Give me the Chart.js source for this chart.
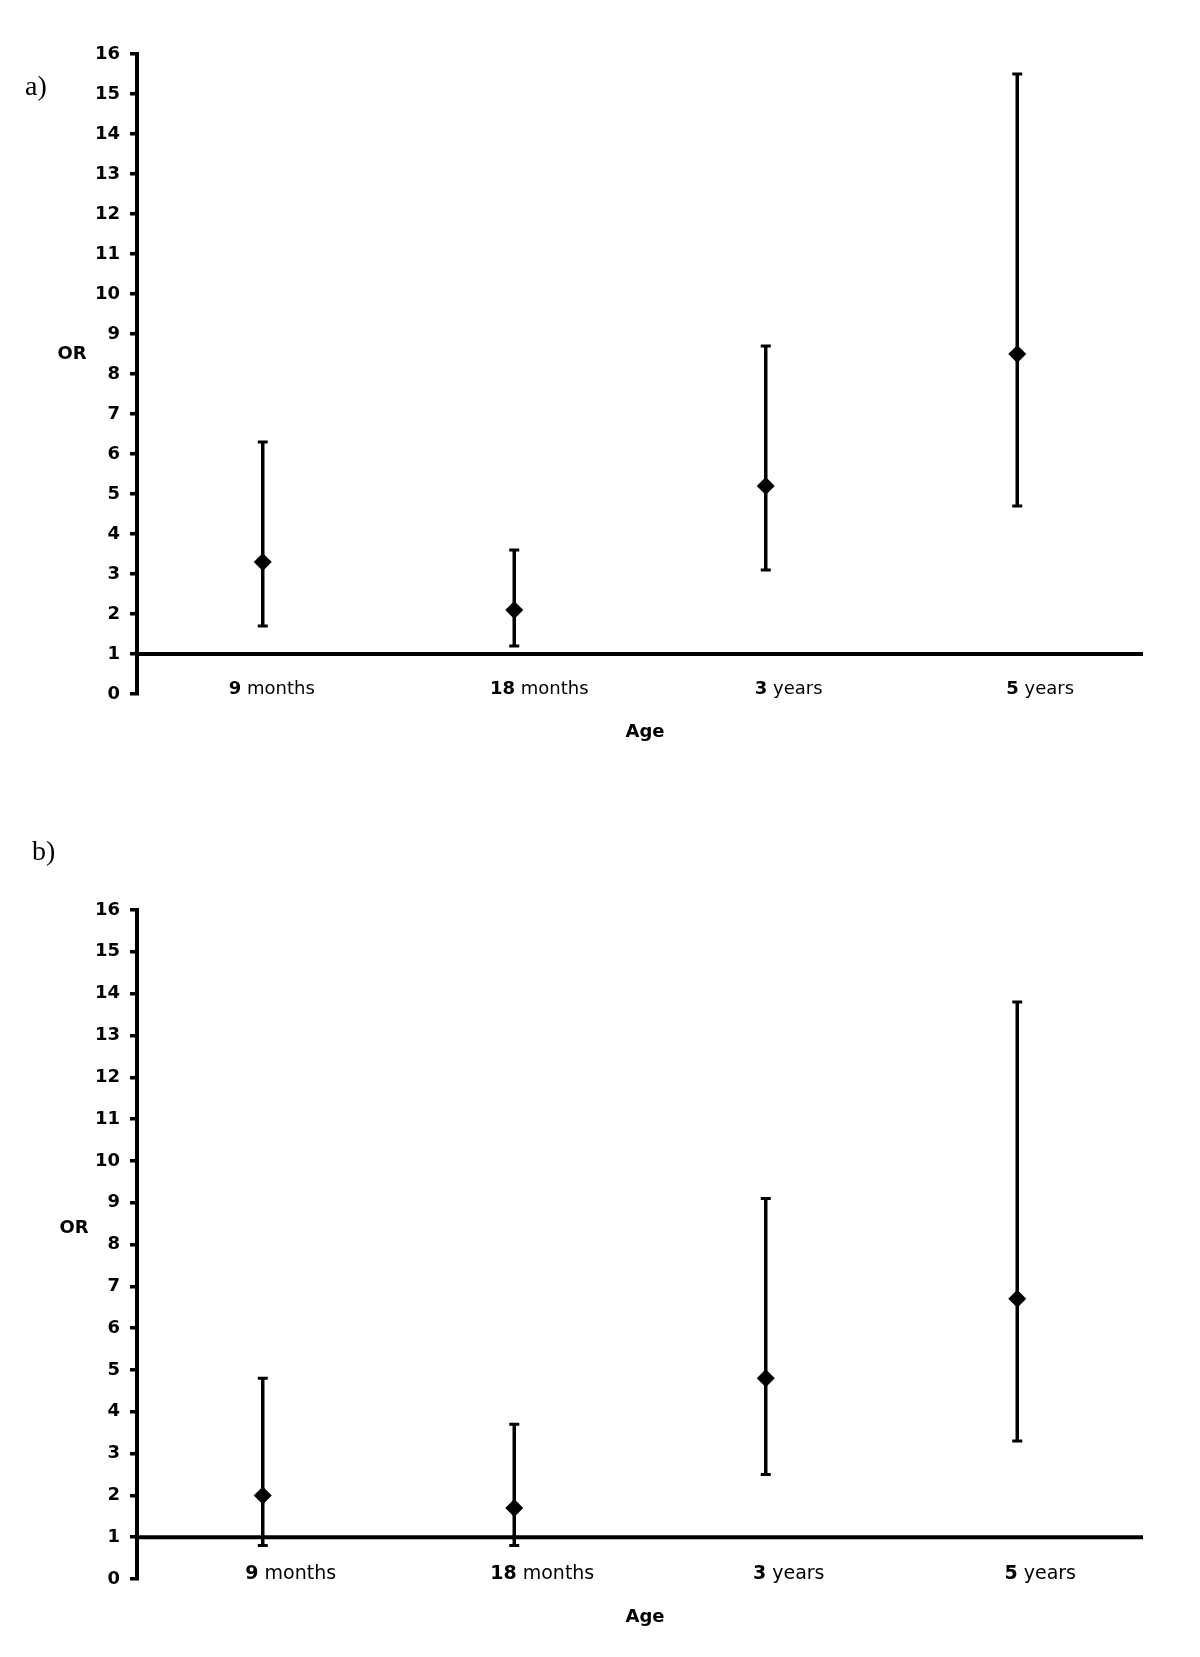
<!DOCTYPE html>
<html>
<head>
<meta charset="utf-8">
<script src="https://cdn.jsdelivr.net/npm/chart.js@4.4.1/dist/chart.umd.min.js"></script>
<style>
  body { margin: 0; background: #fff; }
  .panel { position: absolute; left: 0; }
</style>
</head>
<body>
<canvas id="chartA" class="panel" width="1200" height="760" style="top:0;width:1200px;height:760px"></canvas>
<canvas id="chartB" class="panel" width="1200" height="897" style="top:760px;width:1200px;height:897px"></canvas>
<script>
// ages on the x axis (number in bold, unit plain)
const ageNumbers = ['9', '18', '3', '5'];
const ageUnits = ['months', 'months', 'years', 'years'];
const ageLabels = ageNumbers.map((n, i) => n + ' ' + ageUnits[i]);

// panel a) odds ratio with 95% CI
const orA = [3.3, 2.1, 5.2, 8.5];
const lowA = [1.7, 1.2, 3.1, 4.7];
const highA = [6.3, 3.6, 8.7, 15.5];

// panel b)
const orB = [2.0, 1.7, 4.8, 6.7];
const lowB = [0.8, 0.8, 2.5, 3.3];
const highB = [4.8, 3.7, 9.1, 13.8];

const yMin = 0, yMax = 16, yStep = 1;
const refOR = 1;

const FONT = '"DejaVu Sans", sans-serif';

// error bars, the OR = 1 line and the hand-set texts
const orPlot = {
    id: 'orPlot',
    beforeDatasetsDraw(chart) {
        const { ctx, chartArea, scales: { x, y } } = chart;
        const ds = chart.data.datasets[0];
        ctx.save();
        ctx.strokeStyle = '#000';

        let yRef = y.getPixelForValue(refOR);
        ctx.lineWidth = 4;
        ctx.beginPath();
        ctx.moveTo(chartArea.left, yRef);
        ctx.lineTo(chartArea.right, yRef);
        ctx.stroke();

        ds.low.forEach((lo, i) => {
            let px = x.getPixelForValue(i);
            let y1 = y.getPixelForValue(lo);
            let y2 = y.getPixelForValue(ds.high[i]);
            ctx.lineWidth = 3.5;
            ctx.beginPath();
            ctx.moveTo(px, y1);
            ctx.lineTo(px, y2);
            ctx.stroke();
            ctx.lineWidth = 3;
            ctx.beginPath();
            ctx.moveTo(px - 5, y1); ctx.lineTo(px + 5, y1);
            ctx.moveTo(px - 5, y2); ctx.lineTo(px + 5, y2);
            ctx.stroke();
        });
        ctx.restore();
    },
    afterDraw(chart, args, opts) {
        const { ctx, chartArea, scales: { x } } = chart;
        ctx.save();
        ctx.fillStyle = '#000';
        ctx.textBaseline = 'middle';

        ctx.font = '28px "Liberation Serif", serif';
        ctx.textAlign = 'left';
        ctx.fillText(opts.letter, opts.letterX, opts.letterY);

        ctx.font = 'bold 18px ' + FONT;
        ctx.textAlign = 'center';
        ctx.fillText('OR', opts.orX, opts.orY);

        let ly = chartArea.bottom - 5;
        let bold = 'bold ' + opts.labelSize + 'px ' + FONT;
        let plain = opts.labelSize + 'px ' + FONT;
        ctx.textAlign = 'left';
        ageNumbers.forEach((n, i) => {
            let unit = ' ' + ageUnits[i];
            ctx.font = bold;
            let wn = ctx.measureText(n).width;
            ctx.font = plain;
            let wu = ctx.measureText(unit).width;
            let sx = x.getPixelForValue(i) + opts.shifts[i] - (wn + wu) / 2;
            ctx.font = bold;
            ctx.fillText(n, sx, ly);
            ctx.font = plain;
            ctx.fillText(unit, sx + wn, ly);
        });

        ctx.font = 'bold 18px ' + FONT;
        ctx.textAlign = 'center';
        ctx.fillText('Age', (chartArea.left + chartArea.right) / 2 + 5, chartArea.bottom + 38);
        ctx.restore();
    }
};

function makeChart(id, values, low, high, g) {
    return new Chart(document.getElementById(id), {
        type: 'line',
        data: {
            labels: ageLabels,
            datasets: [{
                data: values,
                low: low,
                high: high,
                showLine: false,
                pointStyle: 'rectRot',
                pointRadius: 9,
                pointBackgroundColor: '#000',
                pointBorderWidth: 0
            }]
        },
        options: {
            responsive: false,
            animation: false,
            layout: { padding: { top: g.top, right: 57, bottom: 0, left: 0 } },
            plugins: {
                legend: { display: false },
                tooltip: { enabled: false },
                orPlot: g
            },
            scales: {
                x: {
                    type: 'category',
                    offset: true,
                    grid: { display: false },
                    border: { display: false },
                    ticks: { display: false },
                    afterFit: (s) => { s.height = g.xHeight; }
                },
                y: {
                    min: yMin,
                    max: yMax,
                    ticks: {
                        stepSize: yStep,
                        color: '#000',
                        padding: 10,
                        font: { family: FONT, size: g.tickSize, weight: 'bold' }
                    },
                    grid: {
                        drawOnChartArea: false,
                        drawTicks: true,
                        tickLength: 7,
                        lineWidth: 3.5,
                        color: '#000'
                    },
                    border: { display: true, width: 4, color: '#000' },
                    afterFit: (s) => { s.width = 137; }
                }
            }
        },
        plugins: [orPlot]
    });
}

makeChart('chartA', orA, lowA, highA, {
    top: 54, xHeight: 66, tickSize: 18, labelSize: 18,
    letter: 'a)', letterX: 25, letterY: 88, orX: 72, orY: 354,
    shifts: [9, 25, 23, 23]
});

makeChart('chartB', orB, lowB, highB, {
    top: 150, xHeight: 78, tickSize: 18, labelSize: 19,
    letter: 'b)', letterX: 32, letterY: 93, orX: 74, orY: 468,
    shifts: [28, 28, 23, 23]
});
</script>
</body>
</html>
